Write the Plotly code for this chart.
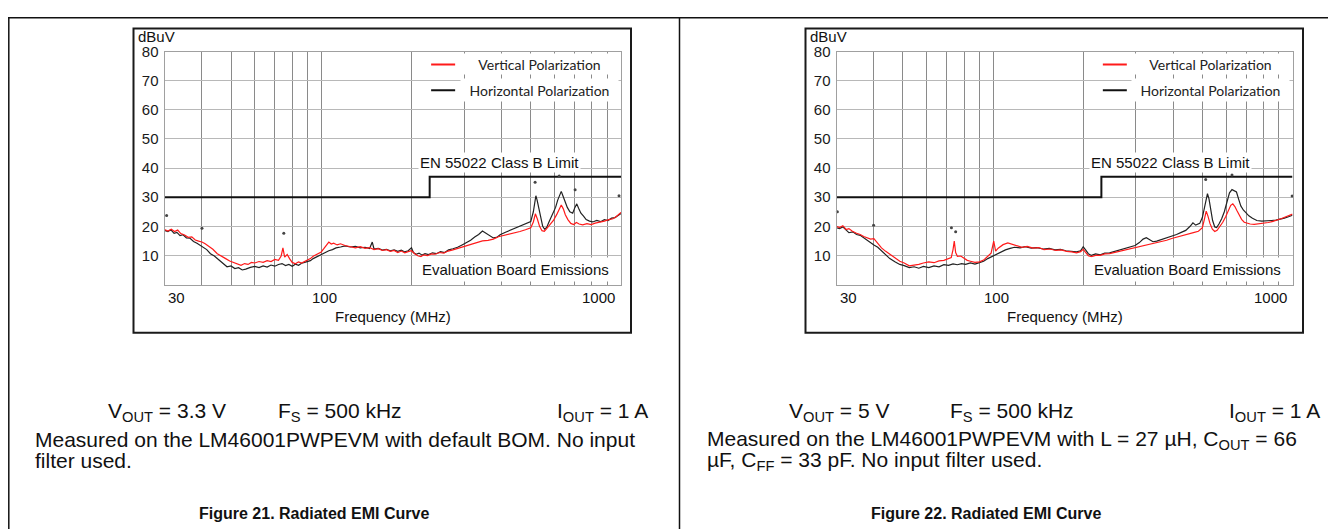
import numpy as np
import plotly.graph_objects as go

W, H = 1336, 529

# ---- Figure 21 (Vout = 3.3 V) ----
h21_f = [30, 30.8, 31.5, 32.3, 33, 33.8, 34.6, 35.5, 36.5, 37.5, 38.5, 39.5, 40.5, 41.5, 42.7, 44, 45.5, 47,
         48.5, 50, 51.5, 53, 54.5, 56, 58, 60, 62, 64, 66, 68, 70, 72, 74, 76, 78, 80, 82, 84, 86, 88, 90, 92,
         94, 96, 98, 100, 103, 106, 109, 112, 116, 120, 125, 130, 135, 140, 145, 148, 150, 155, 160, 165, 170,
         175, 180, 185, 190, 195, 200, 203, 207, 212, 217, 222, 228, 235, 242, 250, 258, 266, 275, 285, 295,
         305, 315, 325, 335, 345, 355, 365, 375, 385, 395, 410, 425, 440, 455, 470, 485, 500, 510, 515, 520,
         525, 532, 540, 548, 556, 565, 575, 585, 595, 605, 615, 625, 632, 640, 650, 662, 675, 690, 702, 712,
         722, 735, 750, 765, 785, 805, 830, 855, 880, 905, 930, 955, 975, 1000]
h21_db = [18.6, 18.2, 18.8, 17.6, 17.9, 16.8, 17.1, 16.0, 15.9, 14.8, 14.2, 13.4, 12.6, 12.0, 10.6, 9.8, 8.5,
          7.2, 6.1, 6.4, 5.5, 5.8, 5.0, 5.3, 5.9, 6.2, 5.8, 6.4, 6.0, 6.7, 6.3, 6.9, 7.2, 6.5, 6.9, 6.3, 7.0,
          6.6, 7.3, 7.6, 8.0, 8.2, 8.9, 9.4, 9.9, 10.4, 11.0, 11.6, 12.0, 12.6, 12.9, 13.3, 12.9, 13.1, 12.6,
          12.8, 12.4, 14.6, 12.2, 12.4, 11.8, 12.1, 11.6, 11.9, 11.4, 11.8, 11.2, 11.6, 12.6, 11.0, 10.4,
          10.8, 10.1, 10.6, 10.3, 10.9, 10.6, 11.3, 11.0, 11.9, 12.3, 12.8, 13.6, 14.3, 15.2, 16.3, 17.2,
          18.4, 17.6, 16.6, 16.0, 16.2, 17.1, 17.9, 18.6, 19.3, 19.8, 20.4, 21.0, 21.6, 25.0, 28.5, 30.5,
          29.0, 26.0, 22.5, 20.0, 19.0, 19.6, 21.5, 23.0, 24.5, 26.5, 29.0, 31.0, 32.0, 30.5, 28.5, 26.5,
          25.0, 24.5, 26.5, 27.7, 26.2, 24.5, 23.5, 22.3, 21.8, 21.5, 22.0, 21.6, 22.3, 22.0, 22.8, 23.0,
          23.6, 24.4, 24.8]
v21_f = [30, 30.8, 31.6, 32.4, 33.2, 34, 35, 36, 37, 38, 39, 40, 41, 42, 43.5, 45, 46.5, 48, 49.5, 51, 52.5,
         54, 55.5, 57, 58.5, 60, 62, 64, 66, 68, 70, 72, 73.5, 74.5, 75.5, 77, 78.5, 80, 82, 84, 86, 88, 90,
         92, 94, 96, 98, 100, 102, 104, 106, 108, 110, 113, 116, 120, 125, 130, 135, 140, 145, 150, 155, 160,
         165, 170, 175, 180, 185, 190, 195, 200, 205, 210, 215, 220, 226, 233, 240, 248, 256, 265, 275, 285,
         295, 305, 318, 330, 345, 360, 375, 390, 405, 420, 440, 460, 480, 500, 510, 518, 526, 535, 545, 555,
         565, 580, 595, 610, 622, 632, 642, 652, 665, 680, 695, 710, 725, 745, 770, 795, 820, 850, 880, 910,
         940, 965, 985, 1000]
v21_db = [18.9, 18.4, 19.0, 18.2, 18.7, 17.5, 17.0, 16.2, 16.4, 15.3, 14.9, 14.6, 14.0, 13.2, 12.1, 10.6, 9.6,
          8.9, 8.1, 7.5, 7.0, 6.6, 7.2, 6.9, 7.6, 7.4, 7.9, 7.6, 8.2, 7.9, 8.6, 8.3, 9.8, 12.6, 9.4, 10.3,
          8.8, 7.6, 7.1, 7.8, 7.4, 7.9, 8.3, 8.9, 9.7, 10.2, 10.6, 11.2, 12.3, 13.4, 14.6, 13.9, 14.2, 13.6,
          14.0, 13.4, 13.0, 12.6, 13.0, 12.4, 12.7, 12.0, 12.3, 11.7, 12.0, 11.4, 11.7, 11.0, 11.5, 10.9,
          11.3, 11.6, 10.6, 9.9, 9.6, 10.2, 9.9, 10.5, 10.4, 11.0, 10.8, 11.5, 11.9, 12.4, 12.7, 13.4, 13.9,
          14.4, 15.0, 15.2, 15.6, 16.4, 16.8, 17.1, 17.6, 18.2, 18.8, 19.5, 21.5, 24.3, 22.5, 20.0, 18.5,
          18.3, 19.2, 20.6, 22.0, 24.0, 26.0, 27.3, 26.0, 24.0, 22.3, 21.0, 20.6, 21.3, 20.8, 20.5, 20.9,
          20.6, 21.1, 21.4, 21.8, 22.3, 22.6, 23.4, 24.2, 24.8]
dots21_f = [30.5, 40, 75, 517, 622, 703, 985, 1031]
dots21_db = [23.7, 19.3, 17.6, 35.1, 37.3, 32.6, 30.5, 36.2]

# ---- Figure 22 (Vout = 5 V) ----
h22_f = [30, 30.7, 31.5, 32.3, 33, 34, 35, 36, 37, 38, 39, 40, 41.2, 42.4, 43.8, 45.2, 47, 48.8, 50.5, 52.5,
         54.5, 56.5, 58.5, 61, 63.5, 66, 68.5, 71, 73.5, 76, 78.5, 81, 84, 87, 90, 93, 96, 100, 103, 106, 110,
         114, 118, 123, 128, 134, 140, 147, 154, 161, 168, 175, 182, 190, 196, 200, 204, 208, 213, 220, 228,
         236, 245, 255, 265, 275, 287, 298, 308, 317, 325, 333, 342, 352, 365, 380, 395, 410, 425, 440, 455,
         465, 475, 490, 500, 508, 515, 520, 526, 533, 541, 550, 558, 568, 580, 592, 605, 616, 628, 640, 650,
         660, 672, 685, 700, 715, 735, 760, 790, 820, 850, 880, 910, 940, 970, 1000]
h22_db = [19.5, 19.2, 19.8, 18.6, 17.8, 18.1, 17.2, 16.9, 16.0, 15.3, 14.4, 13.6, 12.8, 11.6, 10.2, 8.9, 7.8,
          6.9, 6.5, 5.8, 6.1, 5.6, 6.2, 5.8, 6.4, 6.1, 6.8, 6.6, 7.1, 6.8, 7.2, 6.9, 7.4, 7.0, 7.5, 8.0, 8.9,
          9.8, 10.5, 11.1, 11.9, 12.4, 12.8, 12.6, 13.0, 12.5, 12.7, 12.2, 12.4, 11.9, 12.1, 11.6, 11.5, 11.2,
          11.6, 13.0, 11.8, 10.6, 10.0, 10.5, 10.2, 10.8, 10.9, 11.4, 11.8, 12.3, 12.9, 13.4, 14.4, 15.6,
          16.1, 15.4, 14.7, 14.9, 15.4, 16.0, 16.6, 17.2, 17.9, 18.6, 20.0, 21.2, 20.4, 21.0, 23.0, 26.5,
          30.0, 31.2, 29.5, 26.0, 22.0, 19.8, 19.6, 20.8, 22.6, 25.0, 28.5, 31.5, 32.6, 32.2, 31.8, 29.5,
          27.0, 25.6, 24.5, 23.6, 22.8, 22.0, 21.8, 21.8, 22.0, 22.1, 22.4, 22.8, 23.3, 23.8]
v22_f = [30, 30.7, 31.5, 32.3, 33, 33.9, 35, 36, 37, 38, 39, 40, 41, 42.4, 43.8, 45.2, 47, 48.8, 50.5, 52.5,
         54.5, 56.5, 58.5, 61, 63.5, 66, 68.5, 70.5, 72.5, 73.5, 74.2, 75, 76, 78, 80, 82, 84, 87, 90, 93, 96,
         98.5, 100.5, 102, 104, 108, 112, 116, 120, 125, 130, 136, 142, 148, 155, 162, 169, 176, 183, 190,
         196, 200, 204, 208, 213, 220, 228, 236, 245, 255, 265, 275, 287, 298, 310, 322, 335, 350, 365, 380,
         395, 410, 425, 440, 455, 470, 485, 500, 508, 515, 522, 530, 540, 550, 560, 572, 585, 598, 610, 622,
         632, 642, 652, 664, 676, 690, 705, 722, 745, 770, 800, 830, 860, 890, 920, 950, 975, 1000]
v22_db = [20.0, 19.6, 20.2, 18.9, 19.2, 18.3, 17.6, 17.2, 16.5, 16.0, 15.6, 15.8, 14.3, 12.6, 11.4, 10.3, 9.2,
          8.0, 7.4, 6.4, 6.6, 6.9, 7.4, 7.8, 7.5, 8.1, 8.3, 8.9, 9.3, 12.0, 14.9, 11.0, 9.7, 9.8, 8.9, 8.3,
          8.0, 7.6, 7.8, 8.4, 9.7, 10.8, 14.9, 11.5, 12.5, 13.7, 14.3, 13.9, 13.3, 12.8, 13.1, 12.5, 12.7,
          12.0, 12.2, 11.7, 11.9, 11.4, 11.2, 10.9, 11.3, 12.1, 11.0, 9.9, 9.6, 10.0, 10.0, 10.5, 10.6, 11.0,
          11.4, 11.8, 12.3, 12.6, 13.0, 13.6, 14.0, 14.3, 14.8, 15.2, 15.8, 16.2, 16.6, 17.1, 17.5, 17.9,
          18.3, 19.5, 22.5, 25.2, 23.5, 21.0, 19.0, 18.2, 18.6, 19.8, 21.4, 23.3, 25.5, 27.2, 27.7, 26.8,
          25.4, 23.6, 22.4, 21.4, 21.0, 20.8, 20.7, 20.9, 21.0, 21.3, 21.7, 22.1, 22.7, 23.3, 23.8, 24.2]
dots22_f = [30.2, 39.9, 72.6, 75, 513, 628, 997, 1031]
dots22_db = [25.0, 20.4, 19.5, 18.1, 36.1, 37.6, 30.4, 36.4]

# EN 55022 Class B limit (same for both)
limit_f = [30, 230, 230, 1000]
limit_db = [30, 30, 37, 37]

grid_f = [40, 50, 60, 70, 80, 90, 100, 200, 300, 400, 500, 600, 700, 800, 900]
y_ticks = [10, 20, 30, 40, 50, 60, 70, 80]

FONT = "Arial, Liberation Sans, sans-serif"

# page offset seen in the screenshot (body margin etc.)
OX, OY, SY = 8, 16, 0.984


def X(x):
    return (x - OX) / W


def Y(y):
    return 1 - (y - OY) / SY / H


def lg(f):
    return float(np.log10(f))


def add_panel(fig, n, x0, h_f, h_db, v_f, v_db, d_f, d_db, cap_lines, fig_title):
    xa = "x" if n == 1 else "x2"
    ya = "y" if n == 1 else "y2"
    fig.add_trace(go.Scatter(x=limit_f, y=limit_db, mode="lines", line=dict(color="#111", width=2),
                             xaxis=xa, yaxis=ya, showlegend=False))
    fig.add_trace(go.Scatter(x=h_f, y=h_db, mode="lines", line=dict(color="#222", width=1.2),
                             name="Horizontal Polarization", xaxis=xa, yaxis=ya, showlegend=False))
    fig.add_trace(go.Scatter(x=v_f, y=v_db, mode="lines", line=dict(color="#ff1a1a", width=1.2),
                             name="Vertical Polarization", xaxis=xa, yaxis=ya, showlegend=False))
    fig.add_trace(go.Scatter(x=d_f, y=d_db, mode="markers", marker=dict(color="#444", size=3),
                             xaxis=xa, yaxis=ya, showlegend=False, cliponaxis=False))

    ann = []
    # x tick labels
    for f, anc, sh in [(30, "left", 1), (100, "center", 3), (1000, "right", -4)]:
        ann.append(dict(x=lg(f), y=Y(297), xref=xa, yref="paper", text=str(f), showarrow=False,
                        xanchor=anc, yanchor="middle", xshift=sh, font=dict(size=15)))
    ann.append(dict(x=0.5, y=Y(316), xref=xa + " domain", yref="paper", text="Frequency (MHz)",
                    showarrow=False, yanchor="middle", font=dict(size=15)))
    ann.append(dict(x=X(x0 + 3.5), y=Y(35.5), xref="paper", yref="paper", text="dBuV",
                    showarrow=False, xanchor="left", yanchor="middle", borderpad=0, font=dict(size=15)))
    ann.append(dict(x=lg(392), y=42, xref=xa, yref=ya, text="EN 55022 Class B Limit", showarrow=False,
                    bgcolor="white", font=dict(size=15)))
    ann.append(dict(x=lg(446), y=5.2, xref=xa, yref=ya, text="Evaluation Board Emissions", showarrow=False,
                    bgcolor="white", borderpad=3, font=dict(size=15)))
    # legend
    for txt, yv, hgt in [("Vertical Polarization", 75.6, 18), ("Horizontal Polarization", 66.7, 20)]:
        ann.append(dict(x=lg(533), y=yv, xref=xa, yref=ya, text=txt, showarrow=False, width=155,
                        height=hgt, bgcolor="white", align="center",
                        font=dict(family="Lato, Noto Sans, sans-serif", size=14, color="#222")))
    # captions below chart
    c = 8 if n == 1 else 679.5
    ann.append(dict(x=X(c + 159), y=Y(411), xref="paper", yref="paper", text=cap_lines[0],
                    showarrow=False, xanchor="center", yanchor="middle", font=dict(size=21)))
    ann.append(dict(x=X(c + 268), y=Y(411), xref="paper", yref="paper",
                    text="F<sub>S</sub> = 500 kHz", showarrow=False, xanchor="left", yanchor="middle",
                    font=dict(size=21)))
    ann.append(dict(x=X(c + 547), y=Y(411), xref="paper", yref="paper",
                    text="I<sub>OUT</sub> = 1 A", showarrow=False, xanchor="left", yanchor="middle",
                    font=dict(size=21)))
    ann.append(dict(x=X(c + 25), y=Y(439), xref="paper", yref="paper", text=cap_lines[1],
                    showarrow=False, xanchor="left", yanchor="middle", font=dict(size=21)))
    ann.append(dict(x=X(c + 25), y=Y(460), xref="paper", yref="paper", text=cap_lines[2],
                    showarrow=False, xanchor="left", yanchor="middle", font=dict(size=21)))
    ann.append(dict(x=X(c + 306), y=Y(513), xref="paper", yref="paper", text="<b>" + fig_title + "</b>",
                    showarrow=False, xanchor="center", yanchor="middle",
                    font=dict(size=16, family="Liberation Sans Narrow, Arial Narrow, Liberation Sans")))
    for a in ann:
        fig.add_annotation(**a)

    shapes = [
        # legend samples (shape x on a log axis is given in data units)
        dict(type="line", xref=xa, yref=ya, x0=232.6, x1=279.7, y0=75.6, y1=75.6,
             line=dict(color="#ff1a1a", width=2)),
        dict(type="line", xref=xa, yref=ya, x0=232.6, x1=279.7, y0=66.7, y1=66.7,
             line=dict(color="#111", width=2)),
        # chart frame
        dict(type="rect", xref="paper", yref="paper", x0=X(x0), x1=X(x0 + 497.5), y0=Y(27.5), y1=Y(332),
             line=dict(color="#1a1a1a", width=2)),
    ]
    for s in shapes:
        fig.add_shape(**s)


fig = go.Figure()
add_panel(fig, 1, 133.5, h21_f, h21_db, v21_f, v21_db, dots21_f, dots21_db,
          ["V<sub>OUT</sub> = 3.3 V",
           "Measured on the LM46001PWPEVM with default BOM. No input",
           "filter used."],
          "Figure 21. Radiated EMI Curve")
add_panel(fig, 2, 805.5, h22_f, h22_db, v22_f, v22_db, dots22_f, dots22_db,
          ["V<sub>OUT</sub> = 5 V",
           "Measured on the LM46001PWPEVM with L = 27 µH, C<sub>OUT</sub> = 66",
           "µF, C<sub>FF</sub> = 33 pF. No input filter used."],
          "Figure 22. Radiated EMI Curve")

# table borders
for s in [dict(x0=0, x1=1, y0=1 - 0.8 / H, y1=1 - 0.8 / H),
          dict(x0=0.8 / W, x1=0.8 / W, y0=1, y1=0),
          dict(x0=X(679.5), x1=X(679.5), y0=1, y1=0)]:
    fig.add_shape(type="line", xref="paper", yref="paper", line=dict(color="#111", width=1.5), **s)

xcommon = dict(type="log", range=[lg(30), 3], tickmode="array", tickvals=grid_f, showticklabels=False,
               ticks="", showgrid=True, gridcolor="#8a8a8a", gridwidth=1, zeroline=False,
               showline=True, mirror=True, linecolor="#a0a0a0", linewidth=1, fixedrange=True)
ycommon = dict(range=[0, 80], tickmode="array", tickvals=y_ticks, ticks="", showgrid=True,
               gridcolor="#b8b8b8", gridwidth=1.3, zeroline=False, showline=True, mirror=True,
               linecolor="#a0a0a0", linewidth=1, ticklabelstandoff=2, tickfont=dict(size=15, color="#1a1a1a"),
               domain=[Y(283.8), Y(50.7)], fixedrange=True)

fig.update_layout(
    width=W, height=H,
    margin=dict(l=0, r=0, t=0, b=0),
    paper_bgcolor="white", plot_bgcolor="white",
    font=dict(family=FONT, size=15, color="#111"),
    showlegend=False,
    xaxis=dict(domain=[X(164.5), X(621)], anchor="y", **xcommon),
    yaxis=dict(anchor="x", **ycommon),
    xaxis2=dict(domain=[X(836.5), X(1292.5)], anchor="y2", **xcommon),
    yaxis2=dict(anchor="x2", **ycommon),
)

fig.write_html("out.html")
